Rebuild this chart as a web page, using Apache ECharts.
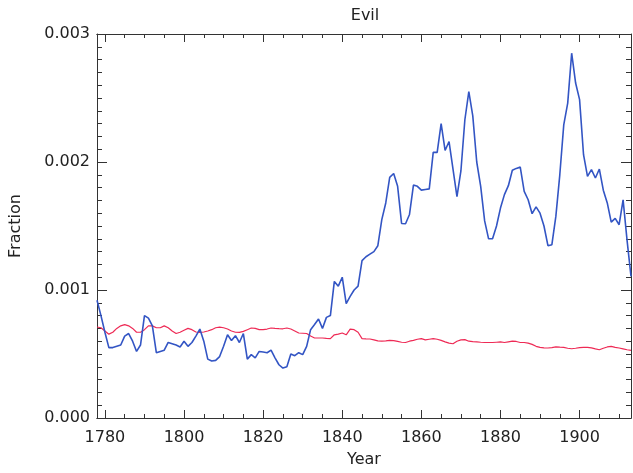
<!DOCTYPE html>
<html>
<head>
<meta charset="utf-8">
<script src="https://cdn.jsdelivr.net/npm/echarts@6/dist/echarts.min.js"></script>
<style>html,body{margin:0;padding:0;background:#fff}#c{width:633px;height:473px}</style>
</head>
<body>
<div id="c"></div>
<script>
const startYear = 1778;
const endYear = 1913;
// "Evil" fraction (x 1e-3), one value per year 1778..1913
const evilValues = [
 0.92,0.80,0.67,0.55,0.55,0.56,0.57,0.64,0.66,0.60,
 0.52,0.57,0.80,0.78,0.72,0.51,0.52,0.53,0.59,0.58,
 0.57,0.555,0.60,0.56,0.59,0.64,0.695,0.60,0.46,0.445,
 0.45,0.48,0.56,0.65,0.606,0.643,0.59,0.66,0.46,0.495,
 0.47,0.52,0.515,0.51,0.53,0.47,0.416,0.39,0.40,0.50,
 0.487,0.51,0.495,0.56,0.69,0.73,0.773,0.70,0.786,0.80,
 1.067,1.03,1.10,0.893,0.95,1.00,1.03,1.23,1.26,1.28,
 1.30,1.346,1.55,1.68,1.88,1.91,1.81,1.52,1.518,1.59,
 1.82,1.81,1.78,1.785,1.79,2.075,2.075,2.30,2.09,2.16,
 1.945,1.73,1.93,2.33,2.55,2.36,2.00,1.81,1.54,1.40,
 1.40,1.50,1.64,1.745,1.815,1.935,1.95,1.96,1.77,1.705,
 1.596,1.65,1.60,1.50,1.346,1.354,1.575,1.90,2.29,2.46,
 2.85,2.617,2.487,2.057,1.888,1.94,1.875,1.945,1.78,1.68,
 1.53,1.56,1.51,1.705,1.39,1.106
];
// smooth baseline (x 1e-3), 1778..1913
const baselineValues = [
 0.711,0.705,0.68,0.655,0.67,0.70,0.72,0.73,0.72,0.70,
 0.67,0.67,0.69,0.72,0.72,0.705,0.705,0.72,0.705,0.68,
 0.66,0.67,0.685,0.70,0.69,0.672,0.668,0.672,0.68,0.69,
 0.705,0.71,0.705,0.695,0.68,0.67,0.669,0.677,0.69,0.703,
 0.70,0.69,0.69,0.695,0.703,0.70,0.698,0.697,0.703,0.695,
 0.68,0.664,0.662,0.66,0.64,0.625,0.625,0.625,0.622,0.62,
 0.65,0.655,0.664,0.65,0.695,0.69,0.67,0.62,0.618,0.617,
 0.61,0.603,0.60,0.602,0.606,0.604,0.598,0.592,0.59,0.60,
 0.606,0.615,0.62,0.61,0.615,0.62,0.615,0.606,0.595,0.585,
 0.58,0.60,0.61,0.612,0.60,0.597,0.595,0.592,0.59,0.59,
 0.59,0.592,0.594,0.59,0.595,0.60,0.598,0.59,0.59,0.585,
 0.575,0.56,0.552,0.548,0.547,0.55,0.555,0.553,0.552,0.545,
 0.541,0.545,0.55,0.552,0.552,0.548,0.54,0.533,0.545,0.555,
 0.56,0.552,0.547,0.54,0.533,0.528
];
const majorYears = [1780,1800,1820,1840,1860,1880,1900];
const minorYears = [];
for (let y = 1780; y <= 1910; y += 5) if (y % 20 !== 0) minorYears.push(y);

const years = [];
for (let y = startYear; y <= endYear; y++) years.push(y);
const evilData = years.map((y,i)=>[y, evilValues[i]/1000]);
const baseData = years.map((y,i)=>[y, baselineValues[i]/1000]);

const FONT = 'DejaVu Sans';
const axisColor = '#333';
function xAx(pos, ticks, len, labels, extra) {
  return Object.assign({
    type:'value', min:startYear, max:endYear, position:pos,
    axisLine:{show:true, onZero:false, lineStyle:{color:axisColor, width:1}},
    axisTick:{show:true, inside:true, length:len, customValues:ticks, lineStyle:{color:axisColor}},
    axisLabel:labels ? {show:true, customValues:ticks, margin:12, color:'#222', fontFamily:FONT, fontSize:16, formatter:v=>String(Math.round(v))} : {show:false},
    splitLine:{show:false}
  }, extra||{});
}
function yAx(pos, labels, extra) {
  return Object.assign({
    type:'value', min:0, max:0.003, interval:0.001, position:pos,
    axisLine:{show:true, onZero:false, lineStyle:{color:axisColor, width:1}},
    axisTick:{show:true, inside:true, length:10, lineStyle:{color:axisColor}},
    minorTick:{show:true, splitNumber:10, length:5, lineStyle:{color:axisColor}},
    axisLabel:labels ? {show:true, margin:7, color:'#222', fontFamily:FONT, fontSize:16, formatter:v=>v.toFixed(3)} : {show:false},
    splitLine:{show:false}
  }, extra||{});
}
const chart = echarts.init(document.getElementById('c'), null, {renderer:'canvas'});
chart.setOption({
  animation:false,
  backgroundColor:'#fff',
  title:{text:'Evil', left:360, top:3, textAlign:'center', textStyle:{fontFamily:FONT, fontSize:16, fontWeight:'normal', color:'#222'}},
  grid:{left:90, right:2, top:34, bottom:55, containLabel:false},
  xAxis:[
    xAx('bottom', majorYears, 8, true, {name:'Year', nameLocation:'middle', nameGap:34, nameTextStyle:{fontFamily:FONT, fontSize:16, color:'#222'}}),
    xAx('bottom', minorYears, 4, false),
    xAx('top', majorYears, 8, false),
    xAx('top', minorYears, 4, false)
  ],
  yAxis:[
    yAx('left', true, {name:'Fraction', nameLocation:'middle', nameGap:73, nameTextStyle:{fontFamily:FONT, fontSize:16, color:'#222'}}),
    yAx('right', false)
  ],
  series:[
    {type:'line', data:baseData, xAxisIndex:0, yAxisIndex:0, showSymbol:false, lineStyle:{color:'#ee2a55', width:1.2}, z:2},
    {type:'line', data:evilData, xAxisIndex:0, yAxisIndex:0, showSymbol:false, lineStyle:{color:'#3355c4', width:1.6}, z:3}
  ]
});
</script>
</body>
</html>
